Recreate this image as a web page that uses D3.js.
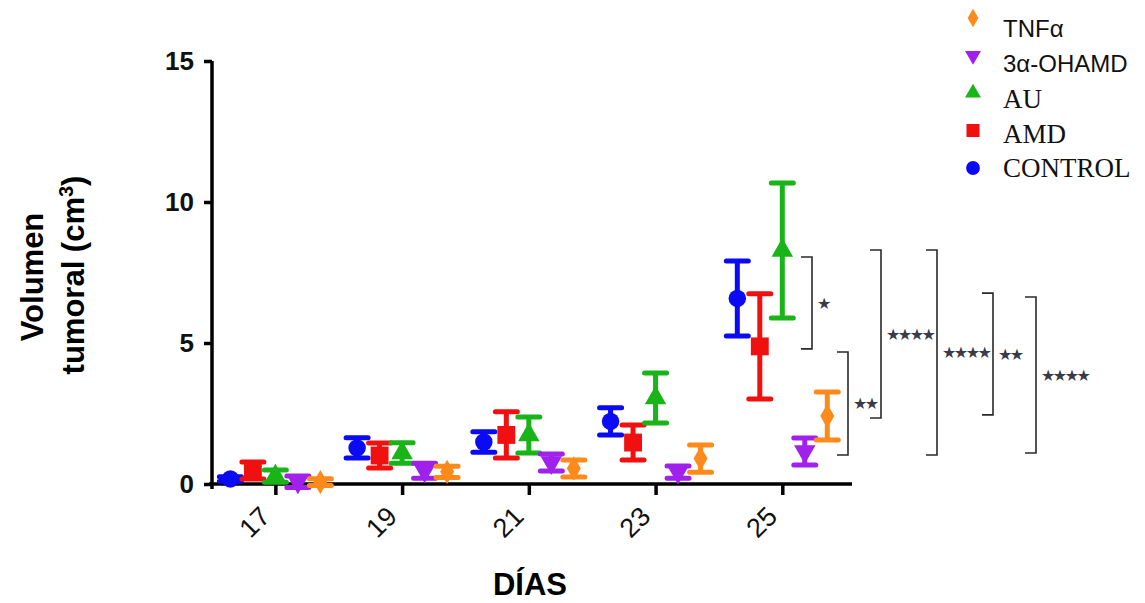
<!DOCTYPE html>
<html>
<head>
<meta charset="utf-8">
<script src="https://cdn.jsdelivr.net/npm/d3@7"></script>
<style>
  body { margin: 0; background: #fff; }
  svg { display: block; }
</style>
</head>
<body>
<svg id="chart" width="1145" height="603"></svg>
<script>
// data (mean +/- error, cm3)
const days = [17, 19, 21, 23, 25];
const seriesNames = ["CONTROL", "AMD", "AU", "3α-OHAMD", "TNFα"];
const controlMean = [0.18, 1.28, 1.49, 2.22, 6.58];
const controlErr  = [0.08, 0.36, 0.36, 0.48, 1.33];
const amdMean = [0.48, 1.01, 1.74, 1.47, 4.88];
const amdErr  = [0.30, 0.44, 0.82, 0.62, 1.87];
const auMean = [0.28, 1.10, 1.74, 3.05, 8.28];
const auErr  = [0.22, 0.36, 0.64, 0.89, 2.39];
const ohamdMean = [0.08, 0.47, 0.76, 0.42, 1.15];
const ohamdErr  = [0.20, 0.27, 0.30, 0.22, 0.48];
const tnfMean = [0.07, 0.43, 0.55, 0.90, 2.41];
const tnfErr  = [0.12, 0.20, 0.30, 0.48, 0.85];
const yTicks = [0, 5, 10, 15];
const legendOrder = ["TNFα", "3α-OHAMD", "AU", "AMD", "CONTROL"];
// significance brackets on day 25 (low end, high end, label)
const bracketLo = [4.79, 1.03, 2.34, 1.03, 2.45, 1.10];
const bracketHi = [8.05, 4.68, 8.30, 8.30, 6.77, 6.63];
const bracketLabel = ["*", "**", "****", "****", "**", "****"];

const means = [controlMean, amdMean, auMean, ohamdMean, tnfMean];
const errs = [controlErr, amdErr, auErr, ohamdErr, tnfErr];

const style = {
  "CONTROL":  { color: "#0a0af5", shape: d3.symbolCircle, size: 240, rot: 0, legSize: 150 },
  "AMD":      { color: "#f01010", shape: d3.symbolSquare, size: 320, rot: 0, legSize: 170 },
  "AU":       { color: "#18b418", shape: d3.symbolTriangle, size: 200, rot: 0, legSize: 110 },
  "3α-OHAMD": { color: "#a020ec", shape: d3.symbolTriangle, size: 200, rot: 180, legSize: 110 },
  "TNFα":     { color: "#ff8a1c", shape: d3.symbolDiamond, size: 170, rot: 0, legSize: 100 }
};
const serifNames = ["AU", "AMD", "CONTROL"];

const svg = d3.select("#chart");

const x = d3.scaleLinear().domain([16, 26.1]).range([212, 852]);
const y = d3.scaleLinear().domain([0, 15]).range([484, 61]);
// dodge of the five groups around each day (in days)
const dodge = d3.scalePoint().domain(seriesNames).range([-0.71, 0.71]);

// axes
const yAxis = d3.axisLeft(y).tickValues(yTicks).tickSize(8).tickSizeOuter(0).tickPadding(10);
const xAxis = d3.axisBottom(x).tickValues(days).tickSize(11).tickSizeOuter(0);

const gy = svg.append("g").attr("transform", "translate(212,0)").call(yAxis);
const gx = svg.append("g").attr("transform", "translate(0,484)").call(xAxis);

[gx, gy].forEach(g => {
  g.select(".domain").attr("stroke", "#000").attr("stroke-width", 3.5);
  g.selectAll(".tick line").attr("stroke", "#000").attr("stroke-width", 3.5);
  g.selectAll(".tick text")
    .attr("fill", "#111")
    .style("font-family", "'Liberation Sans', Arial, sans-serif")
    .style("font-weight", "bold")
    .style("font-size", "26px");
});
gx.select(".domain").attr("d", "M209,0H852");
gy.select(".domain").attr("d", "M0,61V489");
gx.selectAll(".tick text")
  .attr("x", 0).attr("y", 0).attr("dy", 0)
  .attr("text-anchor", "end")
  .style("font-weight", "normal")
  .style("font-size", "27px")
  .attr("transform", "translate(-4,34) rotate(-45)");

// axis titles
const titleFont = "'Liberation Sans', Arial, sans-serif";
svg.append("text")
  .attr("transform", "translate(43,277) rotate(-90)")
  .attr("text-anchor", "middle")
  .style("font-family", titleFont).style("font-weight", "bold").style("font-size", "31px")
  .text("Volumen");
const t2 = svg.append("text")
  .attr("transform", "translate(84,275) rotate(-90)")
  .attr("text-anchor", "middle")
  .style("font-family", titleFont).style("font-weight", "bold").style("font-size", "31px");
t2.append("tspan").text("tumoral (cm");
t2.append("tspan").attr("dy", -11).style("font-size", "20px").text("3");
t2.append("tspan").attr("dy", 11).text(")");

svg.append("text")
  .attr("x", 530).attr("y", 595)
  .attr("text-anchor", "middle")
  .style("font-family", titleFont).style("font-weight", "bold").style("font-size", "31px")
  .text("DÍAS");

// error bars + markers
const capW = 11;
seriesNames.forEach((name, s) => {
  const st = style[name];
  const g = svg.append("g").attr("class", "series");
  days.forEach((d, i) => {
    const cx = x(d + dodge(name));
    const top = y(means[s][i] + errs[s][i]);
    const bot = y(means[s][i] - errs[s][i]);
    g.append("path")
      .attr("d", `M${cx},${top}V${bot}M${cx - capW},${top}H${cx + capW}M${cx - capW},${bot}H${cx + capW}`)
      .attr("stroke", st.color).attr("stroke-width", 5).attr("stroke-linecap", "round")
      .attr("fill", "none");
    g.append("path")
      .attr("d", d3.symbol().type(st.shape).size(st.size)())
      .attr("transform", `translate(${cx},${y(means[s][i])}) rotate(${st.rot})`)
      .attr("fill", st.color);
  });
});

// significance brackets
const bracketX = [812, 848, 881, 937, 993, 1036];
const bg = svg.append("g");
bracketLabel.forEach((lab, i) => {
  const bx = bracketX[i];
  const y1 = y(bracketHi[i]), y2 = y(bracketLo[i]);
  bg.append("path")
    .attr("d", `M${bx - 11},${y1}H${bx}V${y2}H${bx - 11}`)
    .attr("fill", "none").attr("stroke", "#2a2a2a").attr("stroke-width", 1.6);
  bg.append("text")
    .attr("x", bx + 5).attr("y", (y1 + y2) / 2 + 6)
    .style("font-family", "'DejaVu Sans', sans-serif").style("font-size", "16px")
    .style("letter-spacing", "-2.5px")
    .attr("fill", "#3a3a48")
    .text(lab.replace(/\*/g, "★"));
});

// legend
const leg = svg.append("g");
legendOrder.forEach((name, i) => {
  const st = style[name];
  leg.append("path")
    .attr("d", d3.symbol().type(st.shape).size(st.legSize)())
    .attr("transform", `translate(973,${18 + i * 37.5}) rotate(${name === "TNFα" ? 0 : st.rot})`)
    .attr("fill", st.color);
  const serif = serifNames.includes(name);
  leg.append("text")
    .attr("x", 1003).attr("y", 29 + i * 34.75)
    .attr("dy", "0.35em")
    .style("font-family", serif ? "'Liberation Serif', 'Times New Roman', serif" : "'Liberation Sans', Arial, sans-serif")
    .style("font-size", serif ? "27px" : "24px")
    .attr("fill", "#111")
    .text(name);
});
</script>
</body>
</html>
